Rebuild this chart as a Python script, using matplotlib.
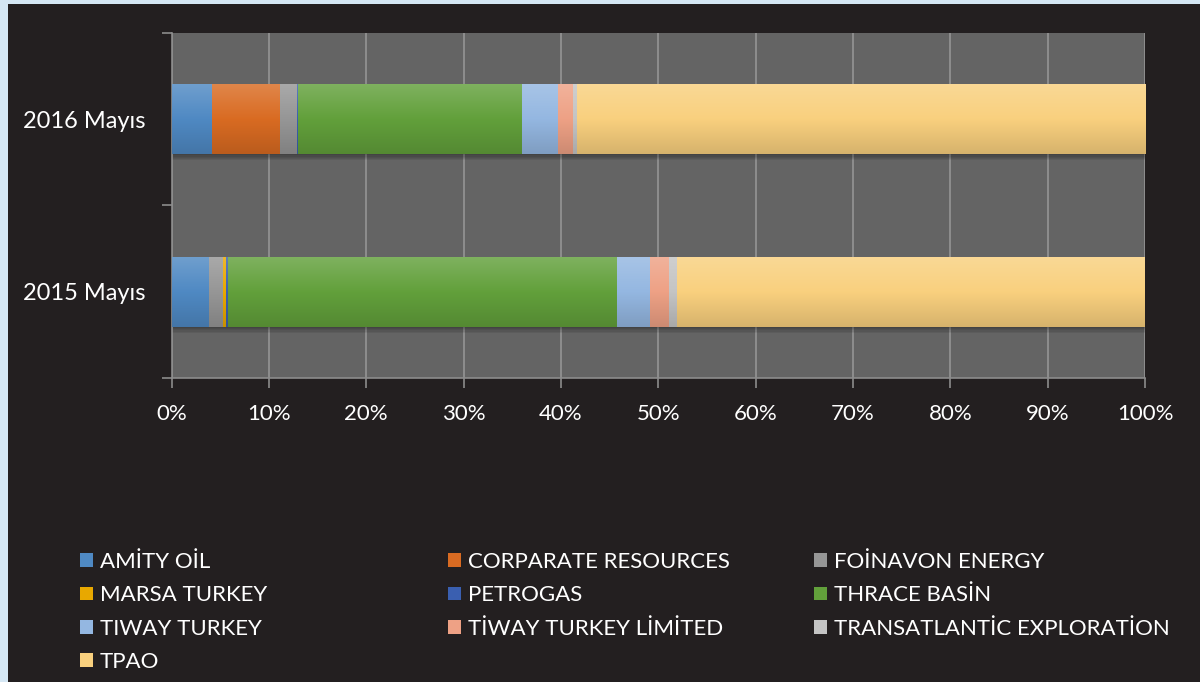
import numpy as np
import matplotlib
matplotlib.use("Agg")
import matplotlib.pyplot as plt
from matplotlib.colors import LinearSegmentedColormap, to_rgb
from matplotlib.patches import Rectangle

categories = ["2015 Mayıs", "2016 Mayıs"]
companies = ["AMİTY OİL", "CORPARATE RESOURCES", "FOİNAVON ENERGY", "MARSA TURKEY",
             "PETROGAS", "THRACE BASİN", "TIWAY TURKEY", "TİWAY TURKEY LİMİTED",
             "TRANSATLANTİC EXPLORATİON", "TPAO"]
# shares (%) per company: [2015 Mayıs, 2016 Mayıs]
amity = [3.86, 4.17]
corparate = [0.0, 6.98]
foinavon = [1.45, 1.78]
marsa = [0.28, 0.0]
petrogas = [0.18, 0.11]
thrace = [40.02, 22.99]
tiway = [3.40, 3.66]
tiway_ltd = [1.94, 1.58]
transatlantic = [0.82, 0.37]
tpao = [48.05, 58.36]
series = [amity, corparate, foinavon, marsa, petrogas, thrace, tiway, tiway_ltd, transatlantic, tpao]
colors = ["#4F89C3", "#D96B22", "#969696", "#E8A800", "#3A5FB0", "#62A03B",
          "#94B7E1", "#EEA185", "#C4C4C4", "#F9D07E"]
x_ticks = [0, 10, 20, 30, 40, 50, 60, 70, 80, 90, 100]

plt.rcParams['font.family'] = ['Lato', 'DejaVu Sans']
W, H = 1200, 682
fig = plt.figure(figsize=(W / 100, H / 100), dpi=100)
fig.patch.set_facecolor("#D5E7F4")
bg = Rectangle((8 / W, 0), 1 - 8 / W, 1 - 4 / H, transform=fig.transFigure,
               facecolor="#231F20", edgecolor="none", zorder=-10)
fig.add_artist(bg)

ax = fig.add_axes([171.5 / W, 1 - 378 / H, (1145 - 171.5) / W, (378 - 33) / H])
ax.set_zorder(5)
ax.set_facecolor("#646464")

y = np.arange(len(categories))
left = np.zeros(len(categories))
bar_h = 0.405
handles = []
for vals, col in zip(series, colors):
    vals = np.array(vals, dtype=float)
    bars = ax.barh(y, vals, left=left, height=bar_h, color=col, edgecolor="none", zorder=3)
    handles.append(bars)
    base = np.array(to_rgb(col))
    top = base + (1 - base) * 0.18
    bot = base * 0.86
    cmap = LinearSegmentedColormap.from_list("g", [bot, base, top])
    grad = np.linspace(0, 1, 64).reshape(-1, 1)
    for p in bars.patches:
        if p.get_width() <= 0:
            continue
        x0, y0, w, h = p.get_x(), p.get_y(), p.get_width(), p.get_height()
        im = ax.imshow(grad, extent=(x0, x0 + w, y0, y0 + h), origin="lower", cmap=cmap,
                       aspect="auto", zorder=4, interpolation="bilinear")
        im.set_clip_path(p)
    left += vals

# soft shadow under bars
for yi in y:
    for k in range(1, 6):
        ax.barh(yi - 0.007 * k, 100.4, left=-0.2, height=bar_h, color="black",
                alpha=0.07, zorder=2, edgecolor="none")

ax.set_xlim(0, 100)
ax.set_ylim(-0.5, 1.5)
ax.set_xticks(x_ticks)
ax.set_xticklabels([f"{t}%" for t in x_ticks])
ax.set_yticks(y)
ax.set_yticklabels(categories)
ax.set_yticks([-0.5, 0.5, 1.5], minor=True)
ax.tick_params(axis="y", which="major", length=0, pad=19, labelsize=17, labelcolor="white")
ax.tick_params(axis="y", which="minor", length=7, width=1.2, color="#8C8C8C", direction="out")
ax.tick_params(axis="x", length=7, width=1.2, color="#8C8C8C", pad=12, labelsize=16,
               labelcolor="white", direction="out")
ax.grid(axis="x", color="#8E8E8E", linewidth=1.4, zorder=1)
ax.set_axisbelow(True)
for s in ["top", "right"]:
    ax.spines[s].set_visible(False)
for s in ["left", "bottom"]:
    ax.spines[s].set_color("#8C8C8C")
    ax.spines[s].set_linewidth(1.2)

# legend in three columns, row-major order as in reference
col_idx = [[0, 3, 6, 9], [1, 4, 7], [2, 5, 8]]
col_x = [80, 448, 814]
for idxs, cx in zip(col_idx, col_x):
    leg = fig.legend([handles[i] for i in idxs], [companies[i] for i in idxs],
                     loc="upper left", bbox_to_anchor=(cx / W, 1 - 552 / H),
                     frameon=False, fontsize=16, labelcolor="white",
                     handlelength=0.58, handleheight=0.58, handletextpad=0.3,
                     labelspacing=0.6, borderpad=0, borderaxespad=0)

fig.savefig("out.png", dpi=100, facecolor=fig.get_facecolor())
